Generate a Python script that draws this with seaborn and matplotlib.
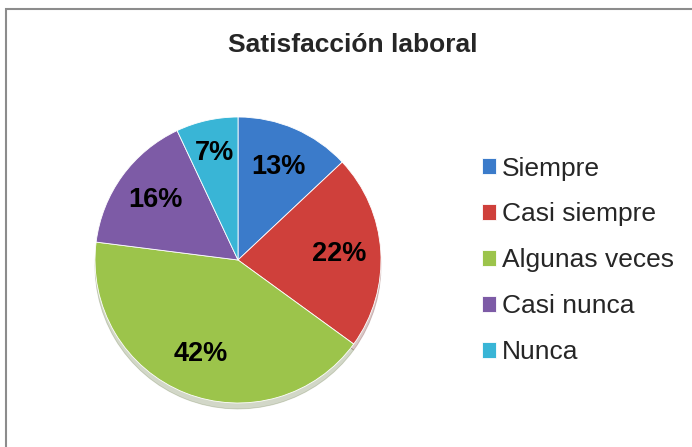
import seaborn as sns
import matplotlib.pyplot as plt
import matplotlib.patches as mpatches

categories = ["Siempre", "Casi siempre", "Algunas veces", "Casi nunca", "Nunca"]
values = [13, 22, 42, 16, 7]
colors = ["#3b7bca", "#cf403b", "#9cc44b", "#7d5ba6", "#39b5d6"]
title = "Satisfacción laboral"

sns.set_theme(style="white")
plt.rcParams['font.family'] = ['Liberation Sans', 'DejaVu Sans']

fig = plt.figure(figsize=(6.92, 4.47), dpi=100)
fig.patch.set_facecolor("white")

# chart border (cropped on the right and bottom)
border = mpatches.Rectangle((6 / 692, -0.2), 1.2, 1 - 9 / 447 + 0.2,
                            transform=fig.transFigure, fill=False,
                            edgecolor="#8c8c8c", linewidth=1.5)
fig.patches.append(border)

# pie axes: centre ~ (238, 260) px, radius ~143 px
cx, cy, r = 238, 260, 143
ax = fig.add_axes([(cx - r) / 692, (447 - cy - r) / 447, 2 * r / 692, 2 * r / 447])

palette = sns.color_palette(colors)
wedges, texts, autotexts = ax.pie(
    values, colors=palette, startangle=90, counterclock=False,
    autopct=lambda p: f"{p:.0f}%", pctdistance=0.71,
    wedgeprops=dict(edgecolor="#ffffff", linewidth=0.6, alpha=1),
    shadow={'ox': 0.0, 'oy': -0.03, 'shade': 0.5, 'alpha': 0.25},
    textprops=dict(fontsize=19.5, fontweight="bold", color="black"),
)
autotexts[-1].set_position((autotexts[-1].get_position()[0] * 1.08,
                            autotexts[-1].get_position()[1] * 1.08))
ax.set_xlim(-1, 1)
ax.set_ylim(-1, 1)
ax.set_aspect("equal")
ax.axis("off")

fig.text(353 / 692, 1 - 45 / 447, title, ha="center", va="center",
         fontsize=19, fontweight="bold")

fig.legend(wedges, categories, loc="upper left",
           bbox_to_anchor=(471 / 692, 1 - 146 / 447), frameon=False,
           fontsize=19, handlelength=0.53, handleheight=0.53,
           handletextpad=0.25, labelspacing=0.83, borderaxespad=0)

fig.savefig("out.png", dpi=100)
